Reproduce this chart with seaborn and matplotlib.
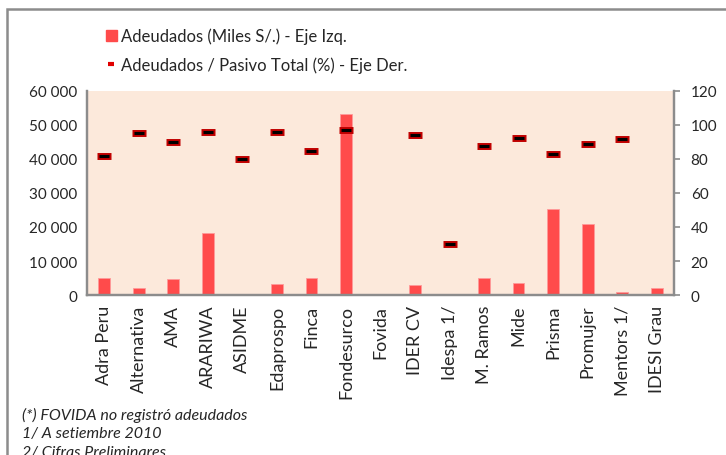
import numpy as np
import pandas as pd
import matplotlib
matplotlib.use("Agg")
import matplotlib.pyplot as plt
import matplotlib.patches as mpatches
from matplotlib.lines import Line2D
import seaborn as sns

# Data
entities = ["Adra Peru", "Alternativa", "AMA", "ARARIWA", "ASIDME", "Edaprospo",
            "Finca", "Fondesurco", "Fovida", "IDER CV", "Idespa 1/", "M. Ramos",
            "Mide", "Prisma", "Promujer", "Mentors 1/", "IDESI Grau"]
adeudados = [4900, 2000, 4700, 18100, 400, 3200, 5000, 53200, 0, 3000, 300,
             4900, 3500, 25200, 20900, 800, 2150]
ratio_pct = [82, 95.5, 90.2, 96.1, 80, 96.1, 84.5, 97.2, np.nan, 94.3, 30,
             87.8, 92.2, 82.9, 88.8, 91.8, np.nan]
left_ticks = [0, 10000, 20000, 30000, 40000, 50000, 60000]
right_ticks = [0, 20, 40, 60, 80, 100, 120]
footnotes = ["(*) FOVIDA no registró adeudados", "1/ A setiembre 2010",
             "2/ Cifras Preliminares"]

df = pd.DataFrame({"entidad": entities, "adeudados": adeudados, "pct": ratio_pct})

sns.set_style("white")
plt.rcParams["font.family"] = ["Lato", "DejaVu Sans"]

bar_color = "#FF4B4B"
grey = "#8C8C8C"

fig = plt.figure(figsize=(7.26, 4.56), dpi=100)
ax = fig.add_axes([87 / 726, 1 - 296 / 456, (674 - 87) / 726, (296 - 92) / 456])
ax.set_facecolor("#FCE9DB")

sns.barplot(data=df, x="entidad", y="adeudados", color=bar_color, width=0.34,
            saturation=1, ax=ax, edgecolor="#FF9A9A", linewidth=0.6)
ax.set_xlim(-0.5, len(entities) - 0.5)
ax.set_ylim(0, 60000)
ax.set_yticks(left_ticks)
ax.set_yticklabels([f"{v:,}".replace(",", " ") for v in left_ticks], fontsize=11)
ax.set_xticks(range(len(entities)))
ax.set_xticklabels(entities, rotation=90, fontsize=13)
ax.set_xlabel("")
ax.set_ylabel("")
ax.tick_params(axis="both", length=0, pad=7)

ax2 = ax.twinx()
x = np.arange(len(entities))
ax2.plot(x, df["pct"], linestyle="none", marker="_", markersize=10,
         markeredgewidth=5, color="#C00000")
ax2.plot(x, df["pct"], linestyle="none", marker="_", markersize=7,
         markeredgewidth=2.2, color="black")
ax2.set_ylim(0, 120)
ax2.set_yticks(right_ticks)
ax2.set_yticklabels([str(v) for v in right_ticks], fontsize=11)
ax2.tick_params(axis="y", length=4, width=1.2, color=grey, pad=8)

for a in (ax, ax2):
    a.spines["top"].set_visible(False)
    for s in ("left", "right", "bottom"):
        a.spines[s].set_color(grey)
        a.spines[s].set_linewidth(1.6)

# legend
handles = [mpatches.Patch(facecolor=bar_color, edgecolor=bar_color),
           Line2D([], [], linestyle="none", marker="_", markersize=5,
                  markeredgewidth=3, color="#E00000")]
labels = ["Adeudados (Miles S/.) - Eje Izq.",
          "Adeudados / Pasivo Total (%) - Eje Der."]
fig.legend(handles, labels, loc="upper left", bbox_to_anchor=(99 / 726, 1 - 22 / 456),
           frameon=False, fontsize=12, handlelength=0.7, handletextpad=0.25,
           labelspacing=0.75, borderaxespad=0)

# footnotes
for i, txt in enumerate(footnotes):
    fig.text(22 / 726, 1 - (415 + i * 19) / 456, txt, style="italic",
             fontsize=11.5, va="center", ha="left")

# outer frame
fig.patches.append(mpatches.Rectangle((7 / 726, -0.1), 1.0, 1.1 - 9.5 / 456,
                                      transform=fig.transFigure, fill=False,
                                      edgecolor=grey, linewidth=1.8))

fig.savefig("out.png", dpi=100)
